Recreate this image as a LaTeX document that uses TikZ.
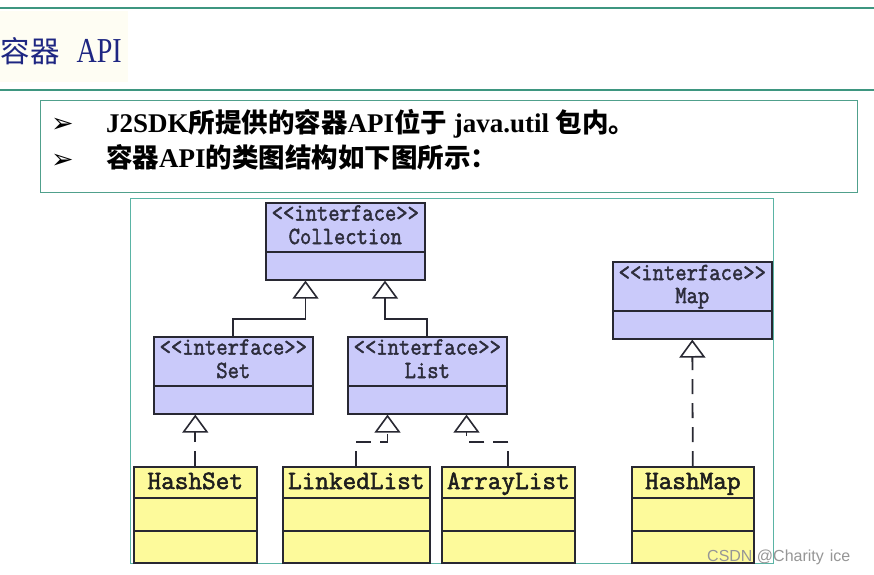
\documentclass[tikz,border=0pt]{standalone}
\usepackage{fontspec}
\usepackage{graphicx}
\usetikzlibrary{arrows.meta}
\newfontfamily\cjk{Noto Sans CJK SC}
\newfontfamily\tms{Liberation Serif}
\newfontfamily\umlfont{Latin Modern Mono}[FakeBold=2]
\newfontfamily\dejavu{DejaVu Sans}
\newfontfamily\wmfont{Liberation Sans}
\definecolor{ruleteal}{RGB}{62,150,128}
\definecolor{boxteal}{RGB}{80,160,140}
\definecolor{diagteal}{RGB}{90,180,165}
\definecolor{titleblue}{RGB}{30,38,130}
\definecolor{titlebg}{RGB}{254,253,243}
\definecolor{boxline}{RGB}{40,40,50}
\definecolor{ifill}{RGB}{202,202,250}
\definecolor{cfill}{RGB}{253,250,155}
\definecolor{itextcol}{RGB}{45,45,60}
\definecolor{ctextcol}{RGB}{30,30,30}
\definecolor{wmgray}{RGB}{150,150,150}
\tikzset{
  iface/.style={draw=boxline, fill=ifill, line width=1.6pt, minimum width=159pt,
    minimum height=77pt, inner sep=0pt, anchor=north west},
  cls/.style={draw=boxline, fill=cfill, line width=1.6pt, minimum height=96pt,
    inner sep=0pt, anchor=north west},
  divline/.style={draw=boxline, line width=1.6pt},
  itext/.style={anchor=base, inner sep=0pt, text=itextcol,
    font=\umlfont\fontsize{22}{24}\selectfont},
  ctext/.style={anchor=base, inner sep=0pt, text=ctextcol,
    font=\umlfont\fontsize{26.5}{28}\selectfont},
  gen/.style={draw=boxline, line width=1.8pt,
    -{Triangle[length=18pt, width=26pt, fill=white, line width=1.6pt]}},
  real/.style={gen, dash pattern=on 15pt off 9pt},
  rule/.style={draw=ruleteal, line width=1.5pt},
  btext/.style={anchor=base west, inner sep=0pt},
}
\newcommand{\lat}[1]{{\tms\bfseries\fontsize{27}{30}\selectfont #1}}
\newcommand{\han}[1]{{\cjk\bfseries\fontsize{26.5}{30}\selectfont #1}}
\begin{document}
\begin{tikzpicture}[x=1pt, y=-1pt]
\useasboundingbox (0,0) rectangle (874,574);
\fill[white] (0,0) rectangle (874,574);
% header
\fill[titlebg] (0,11) rectangle (128,82);
\draw[rule] (0,8) -- (874,8);
\draw[rule] (0,90) -- (874,90);
\node[anchor=base west, inner sep=0pt, text=titleblue] (title) at (0.5,62)
  {{\cjk\fontsize{29.5}{34}\selectfont 容器}\hspace{17pt}{\tms\fontsize{35}{38}\selectfont\scalebox{0.8}[1]{API}}};
% bullet box
\node[draw=boxteal, line width=1.2pt, minimum width=817pt, minimum height=92pt,
  anchor=north west, inner sep=0pt] (bulletbox) at (40,100) {};
\node[btext] (arrow1) at (51,132) {\dejavu\fontsize{27}{28}\selectfont ➢};
\node[btext] (arrow2) at (51,168) {\dejavu\fontsize{27}{28}\selectfont ➢};
\node[btext] (line1) at (106,132)
  {\lat{J2SDK}\han{所提供的容器}\lat{API}\han{位于}\lat{ java.util }\han{包内。}};
\node[btext] (line2) at (106,167)
  {\han{容器}\lat{API}\han{的类图结构如下图所示：}};
% diagram frame
\node[draw=diagteal, line width=1pt, minimum width=643pt, minimum height=365pt,
  anchor=north west, inner sep=0pt] (diag) at (130,198) {};
% interfaces
\node[iface] (col) at (265,202) {};
\node[iface] (set) at (153,336) {};
\node[iface] (list) at (347,336) {};
\node[iface] (map) at (612,261) {};
\foreach \n in {col,set,list,map}{
  \draw[divline] ([yshift=-50pt]\n.north west) -- ([yshift=-50pt]\n.north east);
}
\node[itext] (colA) at ([yshift=-18.5pt]col.north) {\scalebox{1}[1.12]{<<interface>>}};
\node[itext] (colB) at ([yshift=-42pt]col.north) {\scalebox{1}[1.12]{Collection}};
\node[itext] (setA) at ([yshift=-18.5pt]set.north) {\scalebox{1}[1.12]{<<interface>>}};
\node[itext] (setB) at ([yshift=-42pt]set.north) {\scalebox{1}[1.12]{Set}};
\node[itext] (listA) at ([yshift=-18.5pt]list.north) {\scalebox{1}[1.12]{<<interface>>}};
\node[itext] (listB) at ([yshift=-42pt]list.north) {\scalebox{1}[1.12]{List}};
\node[itext] (mapA) at ([yshift=-19pt]map.north) {\scalebox{1}[1.12]{<<interface>>}};
\node[itext] (mapB) at ([yshift=-42pt]map.north) {\scalebox{1}[1.12]{Map}};
% classes
\node[cls, minimum width=123pt] (hs) at (133,466) {};
\node[cls, minimum width=147pt] (ll) at (282,466) {};
\node[cls, minimum width=133pt] (al) at (441,466) {};
\node[cls, minimum width=122pt] (hm) at (631,466) {};
\foreach \n in {hs,ll,al,hm}{
  \draw[divline] ([yshift=-32pt]\n.north west) -- ([yshift=-32pt]\n.north east);
  \draw[divline] ([yshift=-65pt]\n.north west) -- ([yshift=-65pt]\n.north east);
}
\node[ctext] (hsT) at ([yshift=-23pt]hs.north) {HashSet};
\node[ctext] (llT) at ([yshift=-23pt]ll.north) {LinkedList};
\node[ctext] (alT) at ([yshift=-23pt]al.north) {ArrayList};
\node[ctext] (hmT) at ([yshift=-23pt]hm.north) {HashMap};
% generalisation connectors
\coordinate (j1) at (305.5,319);
\coordinate (j2) at (385,319);
\draw[gen] (set.north) |- (j1) -- (j1 |- col.south);
\draw[gen] (list.north) |- (j2) -- (j2 |- col.south);
% realisation connectors
\coordinate (j3) at (387.5,442);
\coordinate (j4) at (466.5,442);
\draw[real] (hs.north) -- (hs.north |- set.south);
\draw[real] (ll.north) |- (j3) -- (j3 |- list.south);
\draw[real] (al.north) |- (j4) -- (j4 |- list.south);
\draw[real] (hm.north) -- (map.south);
% watermark
\node[anchor=base west, inner sep=0pt, text=wmgray,
  font=\wmfont\fontsize{16}{18}\selectfont] (wm) at (707,561) {CSDN @Charity\hspace{6pt}ice};
\end{tikzpicture}
\end{document}
